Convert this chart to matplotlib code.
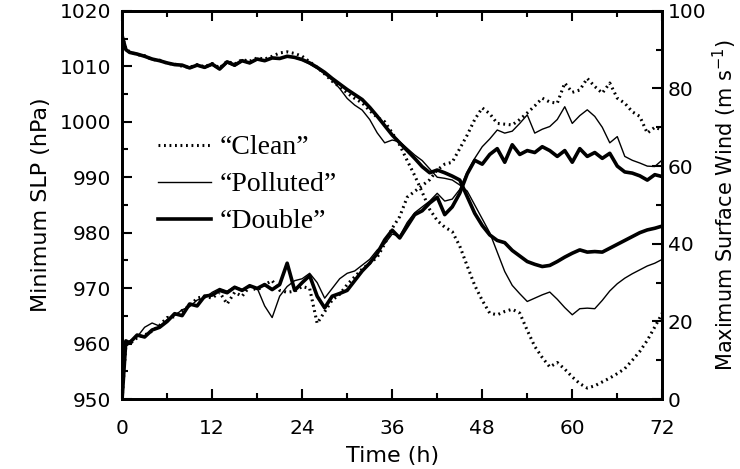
import matplotlib.pyplot as plt
import numpy as np

# time (h)
hours = [0, 0.5] + list(range(1, 73))

# minimum sea level pressure (hPa)
slp_clean = [1015.5, 1013.2, 1012.6, 1012.1, 1011.9, 1011.2, 1011.1, 1010.5, 1010.4, 1010.0,
             1009.8, 1010.3, 1009.9, 1010.5, 1009.7, 1010.9, 1010.4, 1011.2, 1010.9, 1011.5,
             1011.3, 1011.8, 1012.4, 1012.6, 1012.3, 1011.8, 1010.8, 1009.8, 1008.6, 1007.3,
             1006.3, 1005.2, 1004.2, 1003.4, 1002.0, 1000.8, 1000.0, 998.0, 995.8, 993.0,
             990.3, 987.3, 984.2, 982.2, 981.0, 980.2, 977.6, 974.0, 970.5, 967.8,
             965.5, 965.2, 965.8, 966.2, 965.5, 962.4, 959.5, 957.5, 955.8, 956.6,
             955.4, 954.0, 952.8, 952.0, 952.4, 953.1, 953.8, 954.6, 955.5, 957.0,
             958.6, 960.6, 963.0, 965.5]
slp_polluted = [1015.3, 1013.0, 1012.4, 1012.3, 1011.7, 1011.4, 1010.9, 1010.7, 1010.2, 1010.3,
                1009.6, 1010.1, 1009.7, 1010.2, 1009.4, 1010.6, 1010.0, 1010.9, 1010.5, 1011.2,
                1010.9, 1011.6, 1011.3, 1011.9, 1011.5, 1011.1, 1010.4, 1009.6, 1008.6, 1007.5,
                1006.0, 1004.2, 1003.0, 1002.1, 1000.4, 998.0, 996.2, 996.7, 996.4, 995.2,
                994.0, 993.0, 991.5, 990.0, 989.8, 989.5, 988.6, 987.5, 985.0, 982.5,
                980.0, 976.5, 973.0, 970.5, 969.0, 967.6, 968.2, 968.8, 969.3, 968.0,
                966.5, 965.2, 966.3, 966.4, 966.3, 967.8, 969.5, 970.8, 971.8, 972.6,
                973.3, 974.0, 974.5, 975.2]
slp_double = [1015.5, 1013.0, 1012.5, 1012.2, 1011.8, 1011.3, 1011.0, 1010.6, 1010.3, 1010.2,
              1009.7, 1010.2, 1009.8, 1010.4, 1009.5, 1010.8, 1010.2, 1011.0, 1010.6, 1011.3,
              1011.0, 1011.5, 1011.4, 1011.8, 1011.6, 1011.2, 1010.6, 1009.8, 1008.9, 1007.8,
              1006.8, 1005.8, 1004.9, 1004.0, 1002.6, 1001.0, 999.3, 997.6, 996.2, 994.8,
              993.4, 991.9, 990.8, 991.3, 990.8, 990.2, 989.5, 986.5, 983.5, 981.3,
              979.6, 978.6, 978.2, 976.8, 975.8, 974.8, 974.3, 973.9, 974.1, 974.8,
              975.6, 976.3, 976.9, 976.5, 976.6, 976.5, 977.2, 977.9, 978.6, 979.3,
              980.0, 980.5, 980.8, 981.2]

# maximum surface wind (m/s)
wind_clean = [0.0, 14.0, 14.2, 15.8, 16.5, 17.5, 19.0, 21.0, 21.2, 22.8,
              24.0, 26.0, 26.5, 26.0, 27.5, 24.5, 27.5, 26.5, 29.0, 28.0,
              29.5, 30.5, 28.0, 27.5, 27.8, 29.0, 28.5, 19.5, 22.5, 25.5,
              27.0, 29.5, 31.5, 33.5, 35.0, 36.5, 40.0, 44.0, 47.0, 52.0,
              53.5, 55.0, 56.5, 59.0, 60.5, 61.0, 64.5, 68.0, 72.0, 75.0,
              73.5, 71.0, 70.8, 70.6, 72.0, 73.7, 75.5, 77.5, 76.5, 76.2,
              81.4, 79.0, 79.6, 82.6, 80.5, 78.8, 81.4, 77.5, 76.2, 74.0,
              72.8, 68.5, 70.0, 69.3]
wind_polluted = [0.0, 14.5, 15.0, 16.0, 18.5, 19.6, 18.8, 20.5, 21.5, 23.0,
                 23.8, 25.5, 26.0, 27.5, 28.5, 27.8, 29.0, 28.2, 29.0, 28.6,
                 24.0, 21.0, 26.5, 29.0, 30.5, 31.0, 32.4, 30.0, 26.0, 28.5,
                 31.0, 32.4, 33.0, 34.5, 36.0, 38.4, 40.0, 42.5, 42.0, 45.5,
                 48.0, 49.5, 51.0, 53.0, 51.0, 51.5, 54.0, 58.5, 62.0, 65.0,
                 67.0, 69.3, 68.5, 69.0, 71.0, 73.2, 68.5, 69.5, 70.2, 72.0,
                 75.3, 71.0, 73.0, 74.5, 72.8, 70.0, 66.0, 67.6, 62.5, 61.5,
                 60.8, 60.0, 59.9, 61.6]
wind_double = [0.0, 15.0, 14.5, 16.5, 16.0, 17.8, 18.5, 20.0, 22.0, 21.5,
               24.5, 24.0, 26.5, 26.8, 28.0, 27.4, 28.8, 28.0, 29.2, 28.5,
               29.5, 28.2, 29.5, 35.0, 28.0, 30.0, 31.8, 26.5, 23.5, 26.5,
               27.2, 28.0, 30.5, 33.0, 35.0, 37.5, 41.0, 43.5, 41.5, 44.5,
               47.5, 48.5, 50.5, 52.0, 47.5, 49.5, 53.0, 58.0, 61.5, 60.5,
               63.0, 64.5, 61.0, 65.5, 63.0, 64.0, 63.5, 65.0, 64.0, 62.5,
               64.0, 61.0, 64.5, 62.5, 63.5, 62.0, 63.3, 60.0, 58.5, 58.2,
               57.5, 56.4, 57.8, 57.3]

labels = ['\u201cClean\u201d', '\u201cPolluted\u201d', '\u201cDouble\u201d']

plt.rcParams['font.family'] = ['DejaVu Sans']

fig = plt.figure(figsize=(7.4, 4.69), dpi=100)
ax = fig.add_axes([0.165, 0.149, 0.73, 0.828])
ax2 = ax.twinx()

dot = (0, (0.6, 1.2))
l1, = ax.plot(hours, slp_clean, color='k', lw=2.2, ls=dot)
l2, = ax.plot(hours, slp_polluted, color='k', lw=1.0)
l3, = ax.plot(hours, slp_double, color='k', lw=2.6)
ax2.plot(hours, wind_clean, color='k', lw=2.2, ls=dot)
ax2.plot(hours, wind_polluted, color='k', lw=1.0)
ax2.plot(hours, wind_double, color='k', lw=2.6)

ax.set_xlim(0, 72)
ax.set_ylim(950, 1020)
ax2.set_ylim(0, 100)
ax.set_xticks(np.arange(0, 73, 12))
ax.set_xticks(np.arange(0, 73, 6), minor=True)
ax.set_yticks(np.arange(950, 1021, 10))
ax.set_yticks(np.arange(950, 1021, 5), minor=True)
ax2.set_yticks(np.arange(0, 101, 20))
ax2.set_yticks(np.arange(0, 101, 10), minor=True)

ax.tick_params(which='both', direction='in', top=True, right=False, width=1.5,
               labelsize=14.5, pad=8)
ax.tick_params(which='major', length=7)
ax.tick_params(which='minor', length=4)
ax.tick_params(axis='x', which='both', pad=14)
ax2.tick_params(which='both', direction='in', width=1.5, labelsize=14.5, pad=4)
ax2.tick_params(which='major', length=7)
ax2.tick_params(which='minor', length=4)
for a in (ax, ax2):
    for s in a.spines.values():
        s.set_linewidth(2)

ax.set_xlabel('Time (h)', fontsize=16, labelpad=6)
ax.set_ylabel('Minimum SLP (hPa)', fontsize=16, labelpad=6)
ax2.set_ylabel('Maximum Surface Wind (m s$^{-1}$)', fontsize=15, labelpad=3)

ax2.legend([l1, l2, l3], labels, loc='upper left', bbox_to_anchor=(0.021, 0.745),
           frameon=False, handlelength=1.9, handletextpad=0.3, labelspacing=0.42,
           prop={'family': 'Liberation Serif', 'size': 20})

fig.savefig('out.png', dpi=100)
